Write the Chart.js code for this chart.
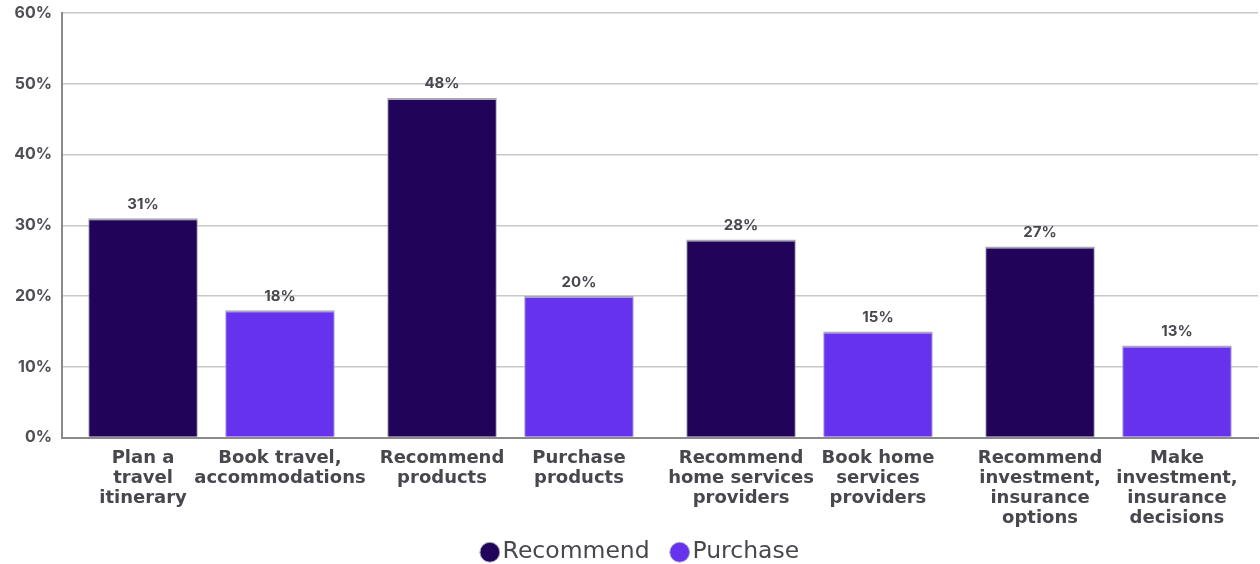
<!DOCTYPE html>
<html>
<head>
<meta charset="utf-8">
<script src="https://cdn.jsdelivr.net/npm/chart.js@4"></script>
<style>
  html, body { margin: 0; padding: 0; background: #fff; }
  #wrap { width: 1260px; height: 564px; }
</style>
</head>
<body>
<div id="wrap"><canvas id="chart" width="1260" height="564"></canvas></div>
<script>
const groups = ["Travel", "Products", "Home services", "Investment & insurance"];
const recommendValues = [31, 48, 28, 27];
const purchaseValues = [18, 20, 15, 13];
const recommendLabels = [
  ["Plan a", "travel", "itinerary"],
  ["Recommend", "products"],
  ["Recommend", "home services", "providers"],
  ["Recommend", "investment,", "insurance", "options"]
];
const purchaseLabels = [
  ["Book travel,", "accommodations"],
  ["Purchase", "products"],
  ["Book home", "services", "providers"],
  ["Make", "investment,", "insurance", "decisions"]
];
const yTicks = [0, 10, 20, 30, 40, 50, 60];

const NUM_FONT = "Inter, 'DejaVu Sans', sans-serif";
const WIDE_FONT = "'DejaVu Sans', sans-serif";
const TEXT = "#48474d";

// value above each bar and its multi-line name under the axis
const barText = {
  id: "barText",
  afterLayout(chart) {
    // nudge the legend row a little to the right of centre
    chart.legend.left += 30;
  },
  afterDatasetsDraw(chart) {
    const ctx = chart.ctx;
    const area = chart.chartArea;
    const names = [recommendLabels, purchaseLabels];
    ctx.save();
    ctx.fillStyle = TEXT;
    ctx.textAlign = "center";
    ctx.textBaseline = "middle";
    chart.data.datasets.forEach((ds, di) => {
      chart.getDatasetMeta(di).data.forEach((bar, i) => {
        ctx.font = "700 15px " + NUM_FONT;
        ctx.fillText(ds.data[i] + "%", bar.x, bar.y - 14);
        ctx.font = "700 18px " + WIDE_FONT;
        names[di][i].forEach((line, k) => {
          ctx.fillText(line, bar.x, area.bottom + 21 + k * 19.8);
        });
      });
    });
    ctx.restore();
  }
};

new Chart(document.getElementById("chart"), {
  type: "bar",
  plugins: [barText],
  data: {
    labels: groups,
    datasets: [
      {
        label: "Recommend",
        data: recommendValues,
        backgroundColor: "#210459",
        borderColor: "#a8a5b6",
        borderWidth: { top: 2, left: 1, right: 1, bottom: 0 },
        categoryPercentage: 0.916,
        barPercentage: 0.8
      },
      {
        label: "Purchase",
        data: purchaseValues,
        backgroundColor: "#6632ee",
        borderColor: "#a8a5c6",
        borderWidth: { top: 2, left: 1, right: 1, bottom: 0 },
        categoryPercentage: 0.916,
        barPercentage: 0.8
      }
    ]
  },
  options: {
    responsive: false,
    animation: false,
    layout: { padding: { top: 13, right: 2, left: 0, bottom: -10 } },
    scales: {
      x: {
        grid: { display: false },
        border: { display: true, color: "#8a8a8a", width: 2 },
        ticks: { display: false },
        afterFit(scale) { scale.height = 74; }
      },
      y: {
        min: 0,
        max: 60,
        afterFit(scale) {
          scale.width = 62;
          scale.paddingTop = 0;
          scale.paddingBottom = 0;
        },
        afterBuildTicks(scale) { scale.ticks = yTicks.map(v => ({ value: v })); },
        border: { display: true, color: "#8a8a8a", width: 2 },
        grid: {
          color: (c) => c.tick && c.tick.value === 0 ? "#8a8a8a" : "#c8c8c8",
          lineWidth: 1.5,
          drawTicks: false
        },
        ticks: {
          padding: 10,
          color: "#4f4f55",
          font: { family: NUM_FONT, size: 16, weight: "700" },
          callback: (v) => v + "%"
        }
      }
    },
    plugins: {
      tooltip: { enabled: false },
      legend: {
        position: "bottom",
        labels: {
          usePointStyle: true,
          pointStyle: "circle",
          // narrow box keeps the dot tight against its text
          boxWidth: 2,
          boxHeight: 14,
          padding: 29,
          color: "#48474d",
          font: { family: WIDE_FONT, size: 23.5, weight: "400" }
        }
      }
    }
  }
});
</script>
</body>
</html>
